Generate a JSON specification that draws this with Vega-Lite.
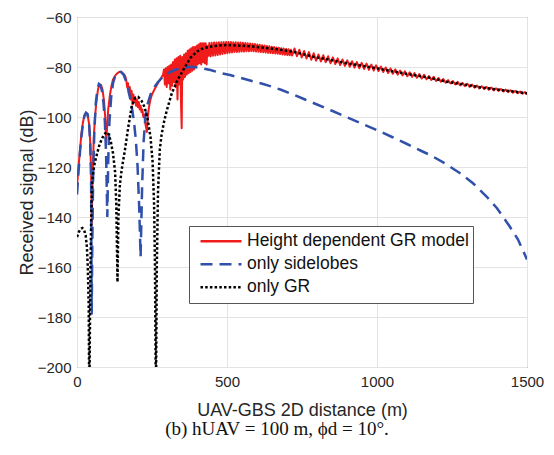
{
"$schema": "https://vega.github.io/schema/vega-lite/v6.json",
"width": 450, "height": 350,
"autosize": {"type": "none"},
"padding": {"left": 77, "top": 17, "right": 27, "bottom": 88},
"background": "white",
"config": {
 "view": {"stroke": "#666", "strokeWidth": 1},
 "font": "Liberation Sans",
 "axis": {"labelFont": "Liberation Sans", "labelFontSize": 15, "labelColor": "#262626", "titleFont": "Liberation Sans", "titleFontSize": 18, "titleFontWeight": "normal", "titleColor": "#262626", "grid": true, "gridColor": "#e3e3e3", "gridWidth": 1, "ticks": false, "domain": false, "labelFlush": false},
 "legend": {"orient": "none", "legendX": 112, "legendY": 209, "padding": 4, "clipHeight": 22.5, "rowPadding": 0, "symbolType": "stroke", "symbolSize": 1681, "symbolStrokeWidth": 2.5, "symbolOffset": 6, "labelOffset": 4, "labelFont": "Liberation Sans", "labelFontSize": 17.5, "labelColor": "#111", "labelLimit": 400, "strokeColor": "#555", "fillColor": "white", "title": null}
},
"title": {"text": "(b) hUAV = 100 m, ϕd = 10°.", "orient": "bottom", "anchor": "middle", "font": "Liberation Serif", "fontSize": 19, "fontWeight": "normal", "color": "#111", "dx": -25, "offset": 1},
"datasets": {
 "gr": [
{"d":0,"v":-128},{"d":5,"v":-120},{"d":10,"v":-113},{"d":15,"v":-106.5},{"d":20,"v":-102},{"d":25,"v":-99.3},{"d":30,"v":-98.3},{"d":35,"v":-99},{"d":40,"v":-102.5},{"d":44,"v":-110},{"d":47,"v":-122},{"d":49,"v":-143},{"d":52,"v":-124},{"d":56,"v":-108},{"d":60,"v":-100},{"d":65,"v":-93.5},{"d":70,"v":-89},{"d":75,"v":-87},{"d":80,"v":-87.2},{"d":85,"v":-89},{"d":90,"v":-93.5},{"d":94,"v":-100},{"d":97,"v":-110},{"d":100,"v":-105},{"d":104,"v":-97},{"d":110,"v":-91},{"d":115,"v":-87.5},{"d":120,"v":-85},{"d":130,"v":-83},{"d":140,"v":-82},{"d":148,"v":-82},{"d":155,"v":-82.8},
{"d":160,"v":-83.5},{"d":164,"v":-85},{"d":167,"v":-88},{"d":170,"v":-86.5},{"d":173,"v":-91},{"d":176,"v":-88},{"d":179,"v":-93},{"d":182,"v":-89.5},{"d":185,"v":-95},{"d":188,"v":-91},{"d":191,"v":-94},{"d":194,"v":-92},{"d":197,"v":-95.5},{"d":200,"v":-93},{"d":203,"v":-96},{"d":206,"v":-94},{"d":209,"v":-97},{"d":212,"v":-95.5},{"d":215,"v":-98},{"d":218,"v":-97},{"d":221,"v":-100},{"d":224,"v":-99},{"d":227,"v":-102},{"d":230,"v":-104},{"d":233,"v":-106},{"d":236,"v":-100},{"d":240,"v":-96},{"d":245,"v":-93},{"d":250,"v":-91},{"d":258,"v":-89},{"d":265,"v":-87.5},{"d":272,"v":-86},{"d":280,"v":-84.5},{"d":287,"v":-83},
{"d":290,"v":-81},{"d":293,"v":-87},{"d":296,"v":-80.5},{"d":299,"v":-88},{"d":302,"v":-80},{"d":305,"v":-86.5},{"d":308,"v":-79.5},{"d":311,"v":-89},{"d":314,"v":-79},{"d":317,"v":-87.5},{"d":320,"v":-78},{"d":323,"v":-86},{"d":326,"v":-77},{"d":329,"v":-88},{"d":332,"v":-76.5},{"d":335,"v":-93},{"d":338,"v":-76},{"d":341,"v":-87},{"d":344,"v":-75.5},{"d":347,"v":-96},{"d":349,"v":-104.5},{"d":351,"v":-76},{"d":354,"v":-85},{"d":357,"v":-75},{"d":360,"v":-84},{"d":363,"v":-74.5},{"d":366,"v":-83},{"d":369,"v":-73.5},{"d":372,"v":-82.5},{"d":375,"v":-73},{"d":378,"v":-82},{"d":381,"v":-72.5},{"d":384,"v":-81.5},{"d":387,"v":-72},{"d":390,"v":-81},{"d":393,"v":-72},{"d":396,"v":-80},{"d":399,"v":-71.5},{"d":402,"v":-79},{"d":405,"v":-71},{"d":408,"v":-78.5},{"d":411,"v":-70.5},{"d":414,"v":-79},{"d":417,"v":-70.5},{"d":420,"v":-78},{"d":423,"v":-70.5},{"d":426,"v":-78.5},{"d":429,"v":-70.5},{"d":432,"v":-79},{"d":435,"v":-71.5},{"d":438,"v":-75.5},
{"d":441,"v":-70.4},{"d":445,"v":-75.8},{"d":449,"v":-70.3},{"d":453,"v":-75.5},{"d":457,"v":-70.2},{"d":461,"v":-75.4},{"d":465,"v":-70.2},{"d":469,"v":-75.2},{"d":473,"v":-70.1},{"d":477,"v":-75},{"d":481,"v":-70.1},{"d":485,"v":-74.8},{"d":489,"v":-70},{"d":493,"v":-74.6},{"d":497,"v":-70},{"d":501,"v":-74.5},{"d":505,"v":-70},{"d":509,"v":-74.3},{"d":513,"v":-70},{"d":517,"v":-74.2},{"d":521,"v":-70.1},{"d":525,"v":-74},{"d":529,"v":-70.1},{"d":533,"v":-74},{"d":537,"v":-70.2},{"d":541,"v":-73.9},{"d":545,"v":-70.2},{"d":549,"v":-73.8},{"d":553,"v":-70.3},{"d":557,"v":-73.8},{"d":561,"v":-70.4},{"d":565,"v":-73.7},{"d":569,"v":-70.5},{"d":573,"v":-73.7},{"d":577,"v":-70.6},{"d":581,"v":-73.6},{"d":585,"v":-70.7},{"d":589,"v":-73.7},{"d":593,"v":-70.8},{"d":597,"v":-73.8},{"d":601,"v":-71},{"d":605,"v":-73.9},{"d":609,"v":-71.1},{"d":613,"v":-74},{"d":617,"v":-71.3},{"d":621,"v":-74.1},{"d":625,"v":-71.4},{"d":629,"v":-74.2},{"d":633,"v":-71.6},{"d":637,"v":-74.3},{"d":641,"v":-71.7},{"d":645,"v":-74.4},{"d":649,"v":-71.9},{"d":653,"v":-74.5},{"d":657,"v":-72},{"d":661,"v":-74.6},{"d":665,"v":-72.2},{"d":669,"v":-74.7},{"d":673,"v":-72.3},{"d":677,"v":-74.8},{"d":681,"v":-72.5},{"d":685,"v":-75},{"d":689,"v":-72.6},{"d":693,"v":-75.1},{"d":697,"v":-72.8},{"d":701,"v":-75.2},{"d":705,"v":-72.9},{"d":709,"v":-75.3},{"d":713,"v":-73.1},{"d":717,"v":-75.4},
{"d":725,"v":-72.6},{"d":733,"v":-75.65},{"d":741,"v":-73.1},{"d":749,"v":-76.15},{"d":757,"v":-73.6},{"d":765,"v":-76.6},{"d":773,"v":-74.05},{"d":781,"v":-77.1},{"d":789,"v":-74.5},{"d":797,"v":-77.5},{"d":805,"v":-75},{"d":813,"v":-77.8},{"d":821,"v":-75.3},{"d":829,"v":-78.1},{"d":837,"v":-75.7},{"d":845,"v":-78.5},{"d":853,"v":-76.15},{"d":861,"v":-78.85},{"d":869,"v":-76.55},{"d":877,"v":-79.25},{"d":885,"v":-77},{"d":893,"v":-79.55},{"d":901,"v":-77.35},{"d":909,"v":-79.9},{"d":917,"v":-77.7},{"d":925,"v":-80.25},{"d":933,"v":-78.05},{"d":941,"v":-80.5},{"d":949,"v":-78.35},{"d":957,"v":-80.8},{"d":965,"v":-78.65},{"d":973,"v":-81.15},{"d":981,"v":-79.05},{"d":989,"v":-81.4},{"d":997,"v":-79.35},{"d":1005,"v":-81.6},{"d":1013,"v":-79.8},{"d":1021,"v":-82},{"d":1029,"v":-80.2},{"d":1037,"v":-82.4},{"d":1045,"v":-80.6},{"d":1053,"v":-82.7},{"d":1061,"v":-80.95},{"d":1069,"v":-83.05},{"d":1077,"v":-81.4},{"d":1085,"v":-83.35},{"d":1093,"v":-81.7},{"d":1101,"v":-83.7},{"d":1109,"v":-82.1},{"d":1117,"v":-83.95},{"d":1125,"v":-82.45},{"d":1133,"v":-84.3},{"d":1141,"v":-82.8},{"d":1149,"v":-84.6},{"d":1157,"v":-83.15},{"d":1165,"v":-84.9},{"d":1173,"v":-83.6},{"d":1181,"v":-85.15},{"d":1189,"v":-83.95},{"d":1197,"v":-85.55},{"d":1205,"v":-84.4},{"d":1213,"v":-85.9},{"d":1221,"v":-84.8},{"d":1229,"v":-86.3},{"d":1237,"v":-85.25},{"d":1245,"v":-86.6},{"d":1253,"v":-85.6},{"d":1261,"v":-87},{"d":1269,"v":-85.95},{"d":1277,"v":-87.35},{"d":1285,"v":-86.35},{"d":1293,"v":-87.65},{"d":1301,"v":-86.7},{"d":1309,"v":-87.95},{"d":1317,"v":-87.05},{"d":1325,"v":-88.3},{"d":1333,"v":-87.4},{"d":1341,"v":-88.55},{"d":1349,"v":-87.7},{"d":1357,"v":-88.8},{"d":1365,"v":-87.95},{"d":1373,"v":-89.1},{"d":1381,"v":-88.2},{"d":1389,"v":-89.35},{"d":1397,"v":-88.55},{"d":1405,"v":-89.55},{"d":1413,"v":-88.8},{"d":1421,"v":-89.8},{"d":1429,"v":-89.05},{"d":1437,"v":-90.05},{"d":1445,"v":-89.3},{"d":1453,"v":-90.3},{"d":1461,"v":-89.55},{"d":1469,"v":-90.5},{"d":1477,"v":-89.8},{"d":1485,"v":-90.7},{"d":1493,"v":-90.05},{"d":1500,"v":-90.95}
 ],
 "sl": [
{"d":0,"v":-131},{"d":5,"v":-122},{"d":10,"v":-114},{"d":15,"v":-107.5},{"d":20,"v":-102.5},{"d":25,"v":-99.5},{"d":30,"v":-98.3},{"d":35,"v":-98.8},{"d":40,"v":-102},{"d":44,"v":-110},{"d":47,"v":-125},{"d":49,"v":-179},{"d":51,"v":-150},{"d":54,"v":-122},{"d":58,"v":-105},{"d":63,"v":-94},{"d":68,"v":-89},{"d":73,"v":-86.8},{"d":78,"v":-87.3},{"d":83,"v":-89.5},{"d":88,"v":-94},{"d":93,"v":-102},{"d":97,"v":-115},{"d":101,"v":-140},{"d":104,"v":-118},{"d":108,"v":-102},{"d":114,"v":-92},{"d":120,"v":-86.5},{"d":128,"v":-83.3},{"d":137,"v":-82},{"d":146,"v":-81.9},{"d":155,"v":-83},{"d":163,"v":-85.5},{"d":170,"v":-88.5},{"d":177,"v":-92.5},{"d":184,"v":-97},{"d":190,"v":-102},{"d":196,"v":-109},{"d":202,"v":-120},{"d":207,"v":-135},{"d":212,"v":-156},{"d":217,"v":-128},{"d":222,"v":-110},{"d":228,"v":-100},{"d":235,"v":-95},{"d":245,"v":-91},{"d":255,"v":-88.5},{"d":270,"v":-86},{"d":290,"v":-83.5},{"d":310,"v":-82},{"d":330,"v":-81},{"d":355,"v":-80.3},{"d":380,"v":-79.9},{"d":410,"v":-80.3},{"d":445,"v":-81.2},{"d":480,"v":-82.5},{"d":510,"v":-83.2},{"d":550,"v":-84.5},{"d":580,"v":-85.5},{"d":615,"v":-86.6},{"d":650,"v":-87.9},{"d":680,"v":-89.1},{"d":720,"v":-91},{"d":760,"v":-93},{"d":800,"v":-95},{"d":850,"v":-97.5},{"d":900,"v":-100.1},{"d":950,"v":-102.7},{"d":999,"v":-105.2},{"d":1050,"v":-108},{"d":1100,"v":-110.8},{"d":1150,"v":-113.7},{"d":1177,"v":-115.2},{"d":1230,"v":-118.8},{"d":1277,"v":-122.5},{"d":1320,"v":-126.5},{"d":1366,"v":-131.9},{"d":1400,"v":-136.5},{"d":1443,"v":-143.9},{"d":1470,"v":-149},{"d":1500,"v":-157}
 ],
 "og": [
{"d":0,"v":-148},{"d":6,"v":-146},{"d":12,"v":-144.8},{"d":18,"v":-144.4},{"d":24,"v":-145.3},{"d":29,"v":-147.5},{"d":33,"v":-152},{"d":36,"v":-160},{"d":39,"v":-175},{"d":41,"v":-215},{"d":43,"v":-185},{"d":45,"v":-160},{"d":47,"v":-143},{"d":49,"v":-132},{"d":52,"v":-124},{"d":58,"v":-119},{"d":66,"v":-115},{"d":74,"v":-111.5},{"d":82,"v":-109},{"d":90,"v":-107},{"d":99,"v":-106},{"d":106,"v":-107},{"d":113,"v":-110},{"d":120,"v":-114.5},{"d":127,"v":-122},{"d":131,"v":-135},{"d":135,"v":-166},{"d":138,"v":-140},{"d":143,"v":-127},{"d":149,"v":-121},{"d":160,"v":-113},{"d":171,"v":-104},{"d":182,"v":-96},{"d":193,"v":-92.5},{"d":204,"v":-92},{"d":215,"v":-93.5},{"d":225,"v":-96},{"d":235,"v":-100.5},{"d":245,"v":-108},{"d":252,"v":-118},{"d":257,"v":-135},{"d":260,"v":-160},{"d":263,"v":-215},{"d":266,"v":-160},{"d":270,"v":-130},{"d":276,"v":-113},{"d":282,"v":-107},{"d":290,"v":-102},{"d":299,"v":-97.5},{"d":316,"v":-90.5},{"d":332,"v":-86},{"d":354,"v":-81.2},{"d":377,"v":-76.5},{"d":399,"v":-73.9},{"d":421,"v":-72.5},{"d":454,"v":-71.6},{"d":499,"v":-71.2},{"d":554,"v":-71.5},{"d":610,"v":-72.1},{"d":666,"v":-72.9},{"d":721,"v":-73.9},{"d":788,"v":-75.9},{"d":850,"v":-77.3},{"d":899,"v":-78.5},{"d":950,"v":-79.5},{"d":999,"v":-80.5},{"d":1060,"v":-81.9},{"d":1121,"v":-83.2},{"d":1180,"v":-84.4},{"d":1232,"v":-85.9},{"d":1290,"v":-87},{"d":1343,"v":-88.1},{"d":1420,"v":-89.3},{"d":1500,"v":-90.5}
 ]
},
"encoding": {
 "x": {"field": "d", "type": "quantitative", "scale": {"domain": [0, 1500], "nice": false}, "axis": {"values": [0, 500, 1000, 1500], "format": "d", "title": "UAV-GBS 2D distance (m)", "labelPadding": 7, "titleY": 48, "titleBaseline": "alphabetic"}},
 "y": {"field": "v", "type": "quantitative", "scale": {"domain": [-200, -60], "nice": false}, "axis": {"values": [-200, -180, -160, -140, -120, -100, -80, -60], "title": "Received signal (dB)", "labelPadding": 6, "titleX": -45, "titleY": 175, "titleBaseline": "alphabetic"}}
},
"layer": [
 {"data": {"name": "gr"}, "mark": {"type": "line", "strokeWidth": 2, "clip": true, "strokeJoin": "round"},
  "encoding": {
   "color": {"datum": "Height dependent GR model", "type": "nominal", "scale": {"domain": ["Height dependent GR model", "only sidelobes", "only GR"], "range": ["#f01c1c", "#3050aa", "#000000"]}},
   "strokeDash": {"datum": "Height dependent GR model", "type": "nominal", "scale": {"domain": ["Height dependent GR model", "only sidelobes", "only GR"], "range": [[1, 0], [12, 7], [2.5, 2.2]]}}}},
 {"data": {"name": "sl"}, "mark": {"type": "line", "strokeWidth": 2.5, "clip": true},
  "encoding": {
   "color": {"datum": "only sidelobes", "type": "nominal"},
   "strokeDash": {"datum": "only sidelobes", "type": "nominal"}}},
 {"data": {"name": "og"}, "mark": {"type": "line", "strokeWidth": 2.5, "clip": true},
  "encoding": {
   "color": {"datum": "only GR", "type": "nominal"},
   "strokeDash": {"datum": "only GR", "type": "nominal"}}}
]
}
